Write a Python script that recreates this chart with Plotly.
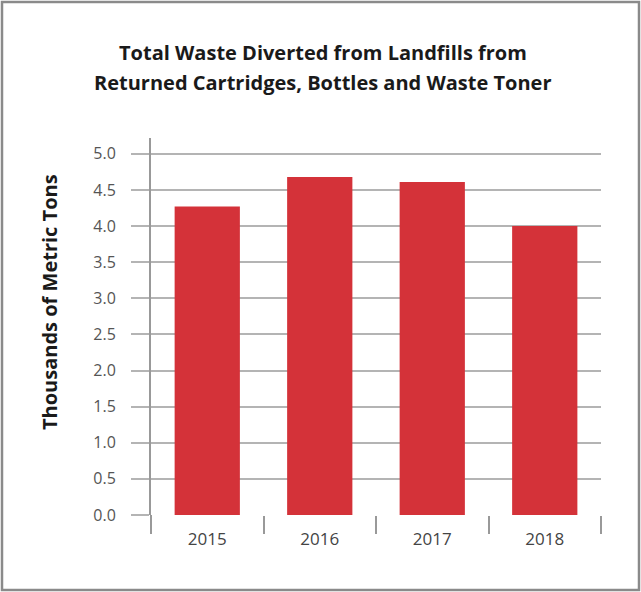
import plotly.graph_objects as go

years = ["2015", "2016", "2017", "2018"]
values = [4.27, 4.68, 4.61, 4.00]
title_lines = ["Total Waste Diverted from Landfills from", "Returned Cartridges, Bottles and Waste Toner"]
y_title = "Thousands of Metric Tons"

W, H = 641, 592
L, R, T, B = 151, 40, 138, 77
pw, ph = W - L - R, H - T - B

fig = go.Figure(go.Bar(x=years, y=values, marker=dict(color="#d43239", line=dict(width=0)), width=0.58))

grid = "#b4b4b4"
title_font = dict(family="Open Sans", size=20, color="#1a1a1a", weight="bold")
annotations = [
    dict(text=line, xref="paper", yref="paper", x=(323 - L) / pw, y=(H - B - yy) / ph,
         xanchor="center", yanchor="middle", showarrow=False, font=title_font)
    for line, yy in zip(title_lines, [52, 83])
]
annotations.append(dict(text=y_title, xref="paper", yref="paper", x=(49 - L) / pw, y=(H - B - 302) / ph,
                        xanchor="center", yanchor="middle", showarrow=False, textangle=-90,
                        font=dict(family="Open Sans", size=20, color="#1a1a1a", weight="bold")))

fig.update_layout(
    width=W, height=H,
    margin=dict(l=L, r=R, t=T, b=B),
    paper_bgcolor="white", plot_bgcolor="white",
    showlegend=False,
    annotations=annotations,
    xaxis=dict(showgrid=False, showline=False, ticks="outside", tickson="boundaries", ticklen=18,
               tickcolor="#999999", tickwidth=2, ticklabelstandoff=12,
               tickfont=dict(family="Open Sans", size=17, color="#444444")),
    yaxis=dict(range=[0, 5.22], dtick=0.5, tickformat=".1f", showgrid=True, gridcolor=grid, gridwidth=2,
               showline=True, linecolor="#999999", linewidth=2, ticks="outside", ticklen=18,
               tickcolor=grid, tickwidth=2, ticklabelstandoff=12, zeroline=False,
               tickfont=dict(family="Open Sans", size=16, color="#555555")),
    shapes=[dict(type="rect", xref="paper", yref="paper",
                 x0=(2 - L) / pw, x1=(639 - L) / pw, y0=(H - B - 590) / ph, y1=(H - B - 2) / ph,
                 line=dict(color="#8a8a8a", width=2.5), fillcolor="rgba(0,0,0,0)", layer="below"),
            dict(type="line", xref="paper", yref="paper", x0=0, x1=0, y0=0, y1=-18/ph,
                 line=dict(color="#999999", width=2))],
)
fig.write_html("out.html")
